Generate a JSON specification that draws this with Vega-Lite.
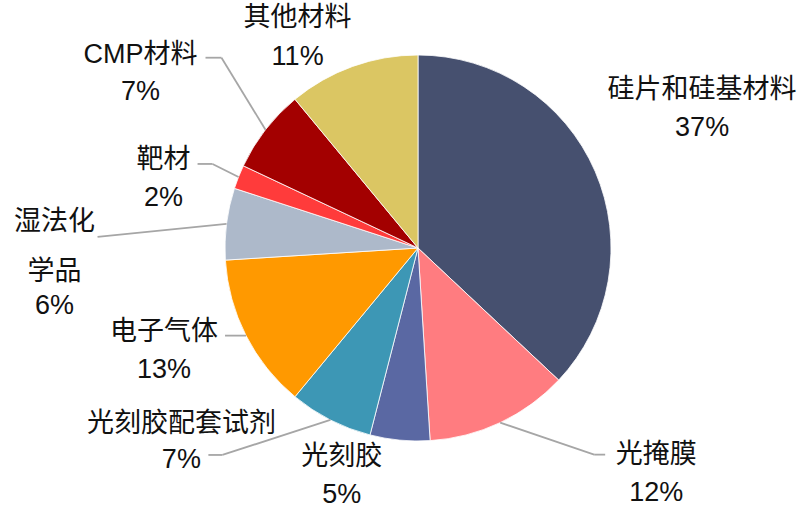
{
  "$schema": "https://vega.github.io/schema/vega-lite/v6.json",
  "width": 764,
  "height": 496,
  "autosize": {"type": "none"},
  "padding": {"left": 36, "top": 0, "right": 0, "bottom": 18},
  "background": "white",
  "config": {"view": {"stroke": null}},
  "data": {
    "values": [
      {"name": "硅片和硅基材料", "value": 37},
      {"name": "光掩膜", "value": 12},
      {"name": "光刻胶", "value": 5},
      {"name": "光刻胶配套试剂", "value": 7},
      {"name": "电子气体", "value": 13},
      {"name": "湿法化学品", "value": 6},
      {"name": "靶材", "value": 2},
      {"name": "CMP材料", "value": 7},
      {"name": "其他材料", "value": 11}
    ]
  },
  "transform": [
    {"window": [{"op": "row_number", "as": "idx"}, {"op": "sum", "field": "value", "as": "cum"}], "frame": [null, 0]},
    {"joinaggregate": [{"op": "sum", "field": "value", "as": "total"}]},
    {"calculate": "2*PI*(datum.cum - datum.value/2)/datum.total", "as": "mid"},
    {"calculate": "sin(datum.mid)", "as": "ex"},
    {"calculate": "cos(datum.mid)", "as": "ey"},
    {"calculate": "datum.name + '\\n' + datum.value + '%'", "as": "label"},
    {"calculate": "substring(datum.name, 0, 3)", "as": "head"},
    {"calculate": "substring(datum.name, 3) + '\\n' + datum.value + '%'", "as": "tail"}
  ],
  "layer": [
    {
      "mark": {"type": "arc", "outerRadius": 193, "stroke": "white", "strokeWidth": 0.8},
      "encoding": {
        "theta": {"field": "value", "type": "quantitative", "stack": true},
        "order": {"field": "idx", "type": "quantitative"},
        "color": {
          "field": "name",
          "type": "nominal",
          "legend": null,
          "scale": {
            "domain": ["硅片和硅基材料", "光掩膜", "光刻胶", "光刻胶配套试剂", "电子气体", "湿法化学品", "靶材", "CMP材料", "其他材料"],
            "range": ["#46506F", "#FF7C80", "#5A68A3", "#3D97B5", "#FF9900", "#ADB9CA", "#FF3B3B", "#A30000", "#DBC663"]
          }
        }
      }
    },
    {
      "encoding": {
        "x": {"field": "ex", "type": "quantitative", "scale": {"domain": [-1.9793, 1.9793], "nice": false, "zero": false}, "axis": null},
        "y": {"field": "ey", "type": "quantitative", "scale": {"domain": [-1.285, 1.285], "nice": false, "zero": false}, "axis": null}
      },
      "layer": [
        {
          "transform": [{"filter": "datum.name == '硅片和硅基材料'"}],
          "mark": {"type": "text", "dx": 107, "dy": -81, "fontSize": 27, "font": "Liberation Sans, Noto Sans CJK SC", "lineBreak": "\n", "lineHeight": 38, "baseline": "middle", "align": "center", "color": "#111111"},
          "encoding": {"text": {"field": "label"}}
        },
        {
          "transform": [{"filter": "datum.name == '光掩膜'"}],
          "layer": [
            {"mark": {"type": "rule", "color": "#A6A6A6", "strokeWidth": 1.8, "xOffset": 0, "yOffset": 0, "x2Offset": 94, "y2Offset": 32}, "encoding": {"x2": {"field": "ex"}, "y2": {"field": "ey"}}},
            {"mark": {"type": "rule", "color": "#A6A6A6", "strokeWidth": 1.8, "xOffset": 94, "yOffset": 32, "x2Offset": 105, "y2Offset": 32}, "encoding": {"x2": {"field": "ex"}, "y2": {"field": "ey"}}},
            {"mark": {"type": "text", "dx": 156, "dy": 32, "fontSize": 27, "font": "Liberation Sans, Noto Sans CJK SC", "lineBreak": "\n", "lineHeight": 38, "baseline": "middle", "align": "center", "color": "#111111"}, "encoding": {"text": {"field": "label"}}}
          ]
        },
        {
          "transform": [{"filter": "datum.name == '光刻胶'"}],
          "mark": {"type": "text", "dx": -58, "dy": 17, "fontSize": 27, "font": "Liberation Sans, Noto Sans CJK SC", "lineBreak": "\n", "lineHeight": 38, "baseline": "middle", "align": "center", "color": "#111111"},
          "encoding": {"text": {"field": "label"}}
        },
        {
          "transform": [{"filter": "datum.name == '光刻胶配套试剂'"}],
          "layer": [
            {"mark": {"type": "rule", "color": "#A6A6A6", "strokeWidth": 1.8, "xOffset": 0, "yOffset": 0, "x2Offset": -108, "y2Offset": 35}, "encoding": {"x2": {"field": "ex"}, "y2": {"field": "ey"}}},
            {"mark": {"type": "rule", "color": "#A6A6A6", "strokeWidth": 1.8, "xOffset": -108, "yOffset": 35, "x2Offset": -122, "y2Offset": 35}, "encoding": {"x2": {"field": "ex"}, "y2": {"field": "ey"}}},
            {"mark": {"type": "text", "dx": -149, "dy": 4, "fontSize": 27, "font": "Liberation Sans, Noto Sans CJK SC", "lineBreak": "\n", "lineHeight": 36, "baseline": "middle", "align": "center", "color": "#111111"}, "encoding": {"text": {"field": "label"}}}
          ]
        },
        {
          "transform": [{"filter": "datum.name == '电子气体'"}],
          "layer": [
            {"mark": {"type": "rule", "color": "#A6A6A6", "strokeWidth": 1.8, "xOffset": 0, "yOffset": 0, "x2Offset": -21, "y2Offset": 0}, "encoding": {"x2": {"field": "ex"}, "y2": {"field": "ey"}}},
            {"mark": {"type": "text", "dx": -82, "dy": -4, "fontSize": 27, "font": "Liberation Sans, Noto Sans CJK SC", "lineBreak": "\n", "lineHeight": 38, "baseline": "middle", "align": "center", "color": "#111111"}, "encoding": {"text": {"field": "label"}}}
          ]
        },
        {
          "transform": [{"filter": "datum.name == '湿法化学品'"}],
          "layer": [
            {"mark": {"type": "rule", "color": "#A6A6A6", "strokeWidth": 1.8, "xOffset": 0, "yOffset": 0, "x2Offset": -129, "y2Offset": 13}, "encoding": {"x2": {"field": "ex"}, "y2": {"field": "ey"}}},
            {"mark": {"type": "text", "dx": -172, "dy": -2, "fontSize": 27, "font": "Liberation Sans, Noto Sans CJK SC", "baseline": "middle", "align": "center", "color": "#111111"}, "encoding": {"text": {"field": "head"}}},
            {"mark": {"type": "text", "dx": -172, "dy": 48, "fontSize": 27, "font": "Liberation Sans, Noto Sans CJK SC", "lineBreak": "\n", "lineHeight": 34, "baseline": "middle", "align": "center", "color": "#111111"}, "encoding": {"text": {"field": "tail"}}}
          ]
        },
        {
          "transform": [{"filter": "datum.name == '靶材'"}],
          "layer": [
            {"mark": {"type": "rule", "color": "#A6A6A6", "strokeWidth": 1.8, "xOffset": 0, "yOffset": 0, "x2Offset": -26, "y2Offset": -13}, "encoding": {"x2": {"field": "ex"}, "y2": {"field": "ey"}}},
            {"mark": {"type": "rule", "color": "#A6A6A6", "strokeWidth": 1.8, "xOffset": -26, "yOffset": -13, "x2Offset": -41, "y2Offset": -13}, "encoding": {"x2": {"field": "ex"}, "y2": {"field": "ey"}}},
            {"mark": {"type": "text", "dx": -75, "dy": -17, "fontSize": 27, "font": "Liberation Sans, Noto Sans CJK SC", "lineBreak": "\n", "lineHeight": 38, "baseline": "middle", "align": "center", "color": "#111111"}, "encoding": {"text": {"field": "label"}}}
          ]
        },
        {
          "transform": [{"filter": "datum.name == 'CMP材料'"}],
          "layer": [
            {"mark": {"type": "rule", "color": "#A6A6A6", "strokeWidth": 1.8, "xOffset": 0, "yOffset": 0, "x2Offset": -44, "y2Offset": -72}, "encoding": {"x2": {"field": "ex"}, "y2": {"field": "ey"}}},
            {"mark": {"type": "rule", "color": "#A6A6A6", "strokeWidth": 1.8, "xOffset": -44, "yOffset": -72, "x2Offset": -60, "y2Offset": -72}, "encoding": {"x2": {"field": "ex"}, "y2": {"field": "ey"}}},
            {"mark": {"type": "text", "dx": -125, "dy": -75, "fontSize": 27, "font": "Liberation Sans, Noto Sans CJK SC", "lineBreak": "\n", "lineHeight": 37, "baseline": "middle", "align": "center", "color": "#111111"}, "encoding": {"text": {"field": "label"}}}
          ]
        },
        {
          "transform": [{"filter": "datum.name == '其他材料'"}],
          "mark": {"type": "text", "dx": -55, "dy": -48, "fontSize": 27, "font": "Liberation Sans, Noto Sans CJK SC", "lineBreak": "\n", "lineHeight": 39, "baseline": "middle", "align": "center", "color": "#111111"},
          "encoding": {"text": {"field": "label"}}
        }
      ]
    }
  ]
}
